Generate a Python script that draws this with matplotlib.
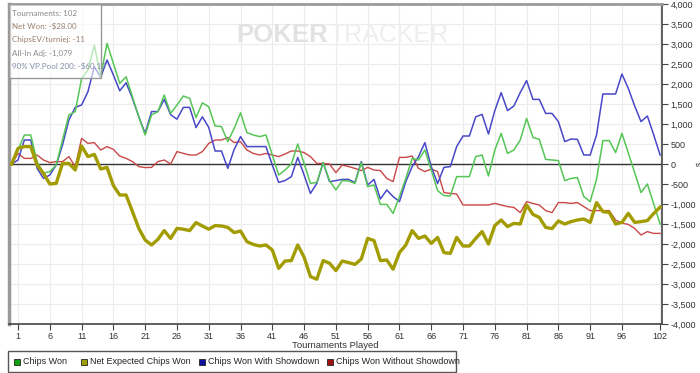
import matplotlib
matplotlib.use("Agg")
import matplotlib.pyplot as plt
from matplotlib.patches import Rectangle
from matplotlib.ticker import FuncFormatter

# ---------------- data ----------------
tournaments = list(range(0, 103))

chips_won = [
    0, 350, 725, 725, 60, -230, -190, -25, 600, 1225,
    1310, 2140, 2350, 2975, 2180, 3015, 2515, 2015, 2180, 1680,
    1180, 725, 1225, 1310, 1725, 1265, 1475, 1700, 1640, 1160,
    1530, 1430, 950, 935, 560, 890, 1280, 785, 725, 685,
    725, 225, -275, -150, 0, 500, 15, -485, -460, 40,
    -415, -650, -415, -425, -485, 35, -565, -525, -1010, -1010,
    -1235, -815, -360, 140, 100, 350, -150, -665, -790, -800,
    -315, -315, -315, 185, 225, -300, 350, 765, 265, 350,
    600, 1140, 665, 615, 115, 100, 85, -415, -360, -340,
    -815, -940, -385, 585, 585, 285, 765, 275, -215, -715,
    -500, -1000, -1500]

net_expected = [
    0, 390, 435, 435, -25, -235, -500, -485, 15, 15,
    -150, 450, 185, 240, -125, -85, -540, -775, -775, -1190,
    -1610, -1900, -2025, -1885, -1665, -1860, -1610, -1630, -1665, -1465,
    -1550, -1630, -1540, -1550, -1585, -1715, -1675, -1940, -2010, -2050,
    -2025, -2150, -2610, -2425, -2415, -2025, -2330, -2815, -2880, -2415,
    -2480, -2665, -2425, -2465, -2510, -2375, -1860, -1915, -2415, -2400,
    -2630, -2215, -2025, -1665, -1860, -1800, -1985, -1835, -2215, -2235,
    -1835, -2050, -2050, -1860, -1690, -2000, -1540, -1400, -1565, -1485,
    -1500, -1025, -1260, -1335, -1585, -1615, -1425, -1500, -1440, -1400,
    -1375, -1460, -965, -1190, -1210, -1500, -1460, -1235, -1460, -1440,
    -1415, -1235, -1079]

with_showdown = [
    0, 100, 600, 600, -110, -360, -275, -25, 475, 1100,
    1415, 1475, 1810, 2430, 2165, 2600, 2225, 1830, 2030, 1640,
    1180, 765, 1310, 1310, 1615, 1235, 1120, 1415, 1415, 910,
    1180, 915, 325, 325, -110, 365, 685, 435, 435, 435,
    435, -25, -460, -415, -315, 165, -275, -735, -485, 35,
    -440, -415, -385, -385, -465, 60, -525, -385, -875, -650,
    -815, -940, -440, -65, 185, 535, -65, -485, -85, -65,
    435, 700, 700, 1180, 1240, 750, 1335, 1785, 1335, 1450,
    1785, 2085, 1615, 1615, 1265, 1265, 1060, 560, 625, 615,
    225, 225, 725, 1750, 1750, 1750, 2250, 1890, 1450, 1060,
    1200, 725, 225]

without_showdown = [
    0, 265, 140, 140, 225, 100, 35, 60, 60, 185,
    -65, 640, 515, 535, 350, 435, 365, 200, 140, 60,
    -65, -90, -85, 60, 100, 0, 310, 265, 225, 225,
    310, 515, 600, 600, 660, 535, 560, 350, 265, 225,
    265, 225, 185, 250, 325, 325, 285, 185, 15, 15,
    0, -215, -25, -65, -110, -165, -85, -150, -165, -360,
    -440, 165, 165, 200, -110, -190, -125, -190, -715, -735,
    -750, -1025, -1025, -1025, -1025, -1025, -985, -1025, -1065, -1085,
    -1215, -940, -985, -1025, -1165, -1215, -965, -965, -985, -965,
    -1065, -1165, -1165, -1165, -1165, -1400, -1480, -1510, -1610, -1775,
    -1690, -1735, -1735]

series_labels = ["Chips Won", "Net Expected Chips Won",
                 "Chips Won With Showdown", "Chips Won Without Showdown"]
line_colors = ["#55c655", "#a39c00", "#4848c8", "#c84848"]
legend_colors = ["#10a010", "#a0a000", "#1010a0", "#a01010"]

x_ticks = [1, 6, 11, 16, 21, 26, 31, 36, 41, 46, 51, 56, 61, 66, 71, 76,
           81, 86, 91, 96, 102]
y_ticks = list(range(-4000, 4001, 500))

info_lines = ["Tournaments: 102", "Net Won: -$28.00", "ChipsEV/turniej: -11",
              "All-In Adj: -1,079", "90% VP.Pool 200: -$60.12"]
info_colors = ["#888888", "#9a8272", "#9a7c6c", "#8a8a8a", "#8590a8"]

# ---------------- figure ----------------
W, H = 700, 373
fig = plt.figure(figsize=(W / 100, H / 100), dpi=100)
fig.patch.set_facecolor("white")

def fx(x):
    return x / W

def fy(y):
    return 1 - y / H

left, right, top, bottom = 9, 662, 4, 324
ax = fig.add_axes([fx(left), fy(bottom), (right - left) / W, (bottom - top) / H])
ax.set_xlim(-0.42, 102.3)
ax.set_ylim(-4000, 4000)

# grid
for xt in x_ticks:
    ax.axvline(xt, color="#ececec", lw=0.8, zorder=0)
for yt in y_ticks:
    ax.axhline(yt, color="#ececec", lw=0.8, zorder=0)
ax.axhline(0, color="#333333", lw=1.0, zorder=1)

# watermark
ax.text(0.4885, 0.902, "POKER", transform=ax.transAxes, ha="right", va="center",
        fontsize=18.5, fontweight="bold", color="#e2e2e2", family="Liberation Sans", zorder=0.5)
ax.text(0.491, 0.902, "TRACKER", transform=ax.transAxes, ha="left", va="center",
        fontsize=18, color="#eeeeee", family="Liberation Sans", zorder=0.5)

# lines
ax.plot(tournaments, without_showdown, color=line_colors[3], lw=1.0, zorder=2)
ax.plot(tournaments, with_showdown, color=line_colors[2], lw=1.1, zorder=3)
ax.plot(tournaments, chips_won, color=line_colors[0], lw=1.1, zorder=4)
ax.plot(tournaments, net_expected, color=line_colors[1], lw=2.4, zorder=5)

# spines
ax.spines["left"].set_color("#9a9a9a")
ax.spines["left"].set_linewidth(2.5)
ax.spines["top"].set_color("#9a9a9a")
ax.spines["top"].set_linewidth(2.0)
ax.spines["right"].set_color("#444444")
ax.spines["right"].set_linewidth(1.2)
ax.spines["bottom"].set_color("#444444")
ax.spines["bottom"].set_linewidth(1.2)

ax.yaxis.tick_right()
ax.set_yticks(y_ticks)
ax.yaxis.set_major_formatter(FuncFormatter(lambda v, p: f"{int(v):,}"))
ax.set_xticks(x_ticks)
ax.tick_params(axis="both", direction="out", length=4, width=0.8, color="#444444",
               labelsize=6.5, labelcolor="#333333", pad=2)
for lab in ax.get_xticklabels() + ax.get_yticklabels():
    lab.set_family("Liberation Sans")

# info box
ax.add_patch(Rectangle((0, 0.769), 0.141, 0.231, transform=ax.transAxes,
                       facecolor="white", alpha=0.6, edgecolor="none", zorder=6))
ax.add_patch(Rectangle((0, 0.769), 0.141, 0.231, transform=ax.transAxes,
                       facecolor="none", edgecolor="#999999", lw=1.0, zorder=7))
for i, (txt, col) in enumerate(zip(info_lines, info_colors)):
    ax.text(fx(12), fy(13.5 + i * 13.2), txt, transform=fig.transFigure,
            ha="left", va="center", fontsize=5.8, color=col, family="Lato",
            zorder=8, clip_on=False)

# axis title + odd right symbol
fig.text(fx(335.5), fy(346), "Tournaments Played", ha="center", va="center",
         fontsize=6.8, color="#333333", family="Liberation Sans")
fig.text(fx(697), fy(164), "$", ha="center", va="center", rotation=270,
         fontsize=5, color="#333333", family="Liberation Sans")

# legend
lx0, ly0, lx1, ly1 = 8, 351, 456, 372
fig.patches.append(Rectangle((fx(lx0), fy(ly1)), (lx1 - lx0) / W, (ly1 - ly0) / H,
                             transform=fig.transFigure, facecolor="white",
                             edgecolor="#555555", lw=1.0))
sq_x = [14, 81, 199, 327]
for sx, lab, col in zip(sq_x, series_labels, legend_colors):
    fig.patches.append(Rectangle((fx(sx), fy(364.5)), 6 / W, 6 / H,
                                 transform=fig.transFigure, facecolor=col,
                                 edgecolor="#222222", lw=0.6))
    fig.text(fx(sx + 9), fy(361.5), lab, ha="left", va="center",
             fontsize=6.5, color="#222222", family="Liberation Sans")

fig.savefig("out.png", dpi=100)
